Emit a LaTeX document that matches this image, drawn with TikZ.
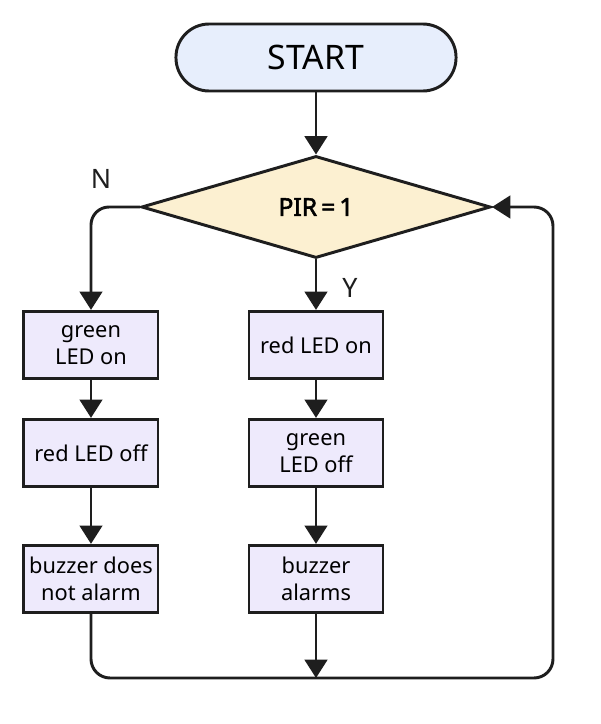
\documentclass[tikz,border=0pt]{standalone}
\usepackage{fontspec}
\setmainfont{Noto Sans}
\newfontfamily\heavyfont[FakeBold=2.2]{Noto Sans}
\usetikzlibrary{positioning,shapes.geometric,arrows.meta}
\definecolor{ink}{HTML}{1E1E1E}
\definecolor{startfill}{HTML}{E7EEFC}
\definecolor{pirfill}{HTML}{FCF0D1}
\definecolor{boxfill}{HTML}{EEEAFC}

\begin{document}
\begin{tikzpicture}[x=0.025cm, y=-0.025cm, line width=2.1pt,
      term/.style={draw=ink, fill=startfill, rounded corners=8.3mm,
                   minimum width=70mm, minimum height=16.75mm,
                   font=\fontsize{24}{28}\selectfont},          % start terminal
      decide/.style={diamond, draw=ink, fill=pirfill, inner sep=0pt,
                   minimum width=87.25mm, minimum height=25.5mm,
                   font=\fontsize{17.5}{20}\heavyfont},          % the test
      act/.style={draw=ink, fill=boxfill, align=center, inner sep=2pt,
                   minimum width=33.5mm, minimum height=16.75mm,
                   font=\fontsize{15.5}{19}\selectfont},        % one box per action
      lbl/.style={text=ink, font=\fontsize{19}{22}\selectfont}, % branch labels
      arr/.style={draw=ink, -{Triangle[length=13pt,width=16pt]}}]  % arrow style
    \useasboundingbox (0,0) rectangle (600,724);
    \node[term]                           (start)    at (316,57.5) {START};
    \node[decide, below=15.5mm of start]  (pir)      {PIR\,=\,1};
    \node[act, below=12.6mm of pir]       (redon)    {red LED on};
    \node[act, below=9.5mm of redon]      (greenoff) {green\\LED off};
    \node[act, below=14mm of greenoff]    (buzz)     {buzzer\\alarms};
    \node[act, left=22mm of redon]        (greenon)  {green\\LED on};
    \node[act, below=9.5mm of greenon]    (redoff)   {red LED off};
    \node[act, below=14mm of redoff]      (quiet)    {buzzer does\\not alarm};
    \node[lbl] (no)  at (101,179) {N};
    \node[lbl] (yes) at (350,288) {Y};
    \coordinate (back) at (553,678);                     % bottom right corner of the loop
    \foreach \a/\b in {start/pir, pir/redon, redon/greenoff, greenoff/buzz,
                       greenon/redoff, redoff/quiet}
      \draw[arr] (\a) -- (\b);                           % straight arrows down the columns
    \draw[arr, rounded corners=4.5mm] (pir.west) -| (greenon.north);   % no branch
    \draw[arr] (buzz.south) -- (buzz.south |- back);
    \draw[arr, rounded corners=4.75mm] (quiet.south) |- (back) |- (pir.east);  % back to the test
  \end{tikzpicture}
\end{document}
